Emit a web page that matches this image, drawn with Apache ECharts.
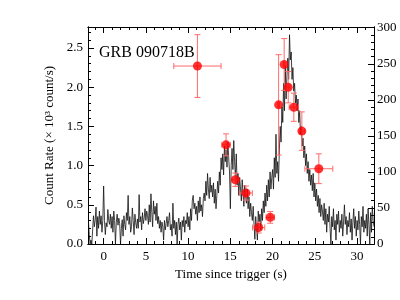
<!DOCTYPE html>
<html><head><meta charset="utf-8">
<script src="https://cdn.jsdelivr.net/npm/echarts@6/dist/echarts.min.js"></script>
<style>html,body{margin:0;padding:0;background:#fff}#c{width:400px;height:300px}</style>
</head><body><div id="c"></div>
<script>
// ---- light curve (count rate, x10^3 counts/s), 0.1 s bins starting at -1.8 s ----
const timeStart = -1.8;
const binWidth = 0.1;
const rateValues = [
  0.29, 0.12, 0.00, 0.05, 0.00, 0.18, 0.36, 0.22,
  0.30, 0.47, 0.10, 0.35, 0.20, 0.42, 0.25, 0.36, 0.15, 0.30,
  0.74, 0.30, 0.12, 0.27, 0.22, 0.44, 0.30, 0.25, 0.38, 0.20,
  0.35, 0.15, 0.42, 0.30, 0.00, 0.28, 0.38, 0.24, 0.33, 0.26,
  0.00, 0.20, 0.31, 0.10, 0.36, 0.25, 0.18, 0.40, 0.30, 0.62,
  0.25, 0.35, 0.15, 0.22, 0.46, 0.30, 0.12, 0.38, 0.27, 0.20,
  0.32, 0.20, 0.63, 0.28, 0.35, 0.18, 0.40, 0.26, 0.33, 0.45,
  0.30, 0.42, 0.36, 0.25, 0.50, 0.28, 0.64, 0.40, 0.22, 0.55,
  0.38, 0.48, 0.30, 0.52, 0.26, 0.35, 0.20, 0.30, 0.15, 0.28,
  0.22, 0.05, 0.30, 0.18, 0.26, 0.35, 0.22, 0.30, 0.40, 0.18,
  0.25, 0.10, 0.52, 0.20, 0.30, 0.12, 0.28, 0.00, 0.25, 0.33,
  0.18, 0.28, 0.05, 0.30, 0.22, 0.35, 0.15, 0.30, 0.26, 0.40,
  0.22, 0.35, 0.18, 0.45, 0.30, 0.56, 0.62, 0.45, 0.52, 0.38,
  0.48, 0.30, 0.55, 0.40, 0.60, 0.42, 0.50, 0.35, 0.58, 0.65,
  0.55, 0.80, 0.62, 0.90, 0.70, 0.58, 0.85, 0.66, 0.75, 0.60,
  0.78, 0.52, 0.70, 0.45, 0.62, 0.80, 0.65, 0.92, 0.75, 1.10,
  0.95, 1.15, 0.88, 1.25, 1.05, 1.20, 0.98, 1.30, 1.10, 0.92,
  0.45, 1.00, 1.22, 0.95, 1.32, 1.05, 0.85, 1.15, 0.75, 0.90,
  0.62, 0.85, 0.70, 0.55, 0.82, 0.65, 0.48, 0.75, 0.60, 0.52,
  0.70, 0.45, 0.60, 0.35, 0.52, 0.40, 0.30, 0.48, 0.25, 0.06,
  0.35, 0.20, 0.05, 0.42, 0.28, 0.38, 0.18, 0.45, 0.30, 0.55,
  0.40, 0.65, 0.48, 0.75, 0.55, 0.82, 0.60, 0.92, 0.70, 0.85,
  0.95, 0.70, 1.10, 0.85, 1.40, 0.90, 1.05, 0.80, 1.20, 1.50,
  1.30, 1.75, 1.55, 2.05, 1.70, 2.28, 1.85, 2.15, 2.37, 2.10,
  2.67, 2.35, 2.45, 2.10, 2.25, 1.95, 2.05, 1.80, 1.90, 1.70,
  1.85, 1.55, 1.70, 1.40, 1.50, 1.25, 1.35, 1.10, 1.25, 1.00,
  1.15, 0.90, 1.05, 0.80, 0.95, 0.75, 0.88, 0.68, 0.90, 0.60,
  0.78, 0.55, 0.70, 0.48, 0.62, 0.40, 0.58, 0.35, 0.50, 0.42,
  0.30, 0.52, 0.25, 0.45, 0.15, 0.38, 0.28, 0.48, 0.20, 0.00,
  0.35, 0.22, 0.45, 0.18, 0.30, 0.05, 0.38, 0.25, 0.42, 0.15,
  0.30, 0.20, 0.38, 0.10, 0.28, 0.50, 0.25, 0.35, 0.12, 0.30,
  0.22, 0.40, 0.15, 0.32, 0.05, 0.28, 0.45, 0.20, 0.35, 0.10,
  0.30, 0.18, 0.42, 0.25, 0.00, 0.35, 0.22, 0.48, 0.15, 0.30,
  0.20, 0.38, 0.10, 0.45, 0.25, 0.00, 0.40, 0.15, 0.48, 0.30,
  0.22
];

// ---- red spectral-interval points ----
const pointTime  = [11.1, 14.49, 15.59, 16.85, 18.35, 19.72, 20.71, 21.37, 21.85, 22.51, 23.46, 25.47];
const pointRate  = [2.27, 1.265, 0.82, 0.65, 0.21, 0.34, 1.775, 2.29, 2.0, 1.745, 1.44, 0.96];
const pointXErr  = [2.8, 0.5, 0.4, 0.75, 0.72, 0.5, 0.1, 0.1, 0.2, 0.55, 0.3, 1.65];
const pointYErr  = [0.40, 0.14, 0.085, 0.09, 0.07, 0.075, 0.64, 0.33, 0.2, 0.18, 0.245, 0.19];

// ---- tick labels ----
const xMajorTicks = [0, 5, 10, 15, 20, 25, 30];
const xMinorTicks = [-1, 1, 2, 3, 4, 6, 7, 8, 9, 11, 12, 13, 14, 16, 17, 18, 19, 21, 22, 23, 24, 26, 27, 28, 29, 31];
const yLeftMajorTicks = [0, 0.5, 1.0, 1.5, 2.0, 2.5];
const yLeftMinorTicks = [0.1, 0.2, 0.3, 0.4, 0.6, 0.7, 0.8, 0.9, 1.1, 1.2, 1.3, 1.4, 1.6, 1.7, 1.8, 1.9, 2.1, 2.2, 2.3, 2.4, 2.6, 2.7];
const yRightMajorTicks = [0, 50, 100, 150, 200, 250, 300];
const yRightMinorTicks = [10, 20, 30, 40, 60, 70, 80, 90, 110, 120, 130, 140, 160, 170, 180, 190, 210, 220, 230, 240, 260, 270, 280, 290];

const titleText = 'GRB 090718B';
const xTitle = 'Time since trigger (s)';
const yTitle = 'Count Rate (\u00d7 10\u00b3 count/s)';

const X_MIN = -1.85, X_MAX = 32, YL_MAX = 2.768, YR_MAX = 301;
const FONT = '"Liberation Serif", "DejaVu Serif", serif';

const curve = rateValues.map((v, i) => [Math.round((timeStart + i * binWidth) * 10) / 10, v]);
const errData = pointTime.map((t, i) => [t, pointRate[i], pointXErr[i], pointYErr[i]]);
const dotData = pointTime.map((t, i) => [t, pointRate[i]]);

function mkX(pos, ticks, len, labels) {
  return {
    type: 'value', position: pos, min: X_MIN, max: X_MAX,
    axisLine: { show: true, onZero: false, lineStyle: { color: '#000', width: 1 } },
    axisTick: { show: true, inside: true, length: len, customValues: ticks, lineStyle: { color: '#000', width: 1 } },
    axisLabel: labels ? { show: true, customValues: ticks, margin: 6, color: '#000', fontFamily: FONT, fontSize: 13 } : { show: false },
    splitLine: { show: false },
    name: labels ? xTitle : '',
    nameLocation: 'middle', nameGap: 21,
    nameTextStyle: { color: '#000', fontFamily: FONT, fontSize: 13 }
  };
}
function mkY(pos, min, max, ticks, len, labels, fmt, name) {
  return {
    type: 'value', position: pos, min: min, max: max,
    axisLine: { show: true, onZero: false, lineStyle: { color: '#000', width: 1 } },
    axisTick: { show: true, inside: true, length: len, customValues: ticks, lineStyle: { color: '#000', width: 1 } },
    axisLabel: labels ? { show: true, customValues: ticks, margin: pos === 'left' ? 5 : 3, color: '#000', fontFamily: FONT, fontSize: 13, formatter: fmt } : { show: false },
    splitLine: { show: false },
    name: name || '',
    nameLocation: 'middle', nameGap: 28, nameRotate: 90,
    nameTextStyle: { color: '#000', fontFamily: FONT, fontSize: 13 }
  };
}

const chart = echarts.init(document.getElementById('c'), null, { renderer: 'canvas' });
chart.setOption({
  animation: false,
  backgroundColor: '#fff',
  grid: { left: 88, right: 26, top: 27, bottom: 56 },
  xAxis: [
    mkX('bottom', xMajorTicks, 6, true),
    mkX('top', xMajorTicks, 6, false),
    mkX('bottom', xMinorTicks, 3, false),
    mkX('top', xMinorTicks, 3, false)
  ],
  yAxis: [
    mkY('left', 0, YL_MAX, yLeftMajorTicks, 6, true, v => v.toFixed(1), yTitle),
    mkY('left', 0, YL_MAX, yLeftMinorTicks, 3, false),
    mkY('right', 0, YR_MAX, yRightMajorTicks, 6, true, v => String(v)),
    mkY('right', 0, YR_MAX, yRightMinorTicks, 3, false)
  ],
  graphic: [{
    type: 'text', left: 99, top: 45,
    style: { text: titleText, fill: '#000', font: '16px "Liberation Serif", serif' }
  }],
  series: [
    {
      type: 'line', xAxisIndex: 0, yAxisIndex: 0, data: curve,
      showSymbol: false, symbol: 'none',
      lineStyle: { color: '#111', width: 0.8 }, z: 2
    },
    {
      type: 'custom', xAxisIndex: 0, yAxisIndex: 0, data: errData, z: 3,
      encode: { x: 0, y: 1 },
      renderItem: function (params, api) {
        const x = api.value(0), y = api.value(1), ex = api.value(2), ey = api.value(3);
        const l = api.coord([x - ex, y]), r = api.coord([x + ex, y]);
        const t = api.coord([x, y + ey]), b = api.coord([x, y - ey]);
        const st = { stroke: '#ff6a6a', lineWidth: 1 };
        const cap = 3;
        return {
          type: 'group', children: [
            { type: 'line', shape: { x1: l[0], y1: l[1], x2: r[0], y2: r[1] }, style: st },
            { type: 'line', shape: { x1: l[0], y1: l[1] - cap, x2: l[0], y2: l[1] + cap }, style: st },
            { type: 'line', shape: { x1: r[0], y1: r[1] - cap, x2: r[0], y2: r[1] + cap }, style: st },
            { type: 'line', shape: { x1: t[0], y1: t[1], x2: b[0], y2: b[1] }, style: st },
            { type: 'line', shape: { x1: t[0] - cap, y1: t[1], x2: t[0] + cap, y2: t[1] }, style: st },
            { type: 'line', shape: { x1: b[0] - cap, y1: b[1], x2: b[0] + cap, y2: b[1] }, style: st }
          ]
        };
      }
    },
    {
      type: 'scatter', xAxisIndex: 0, yAxisIndex: 0, data: dotData, z: 4,
      symbol: 'circle', symbolSize: 9,
      itemStyle: { color: '#ff0000', borderWidth: 0 }
    }
  ]
});
</script>
</body></html>
